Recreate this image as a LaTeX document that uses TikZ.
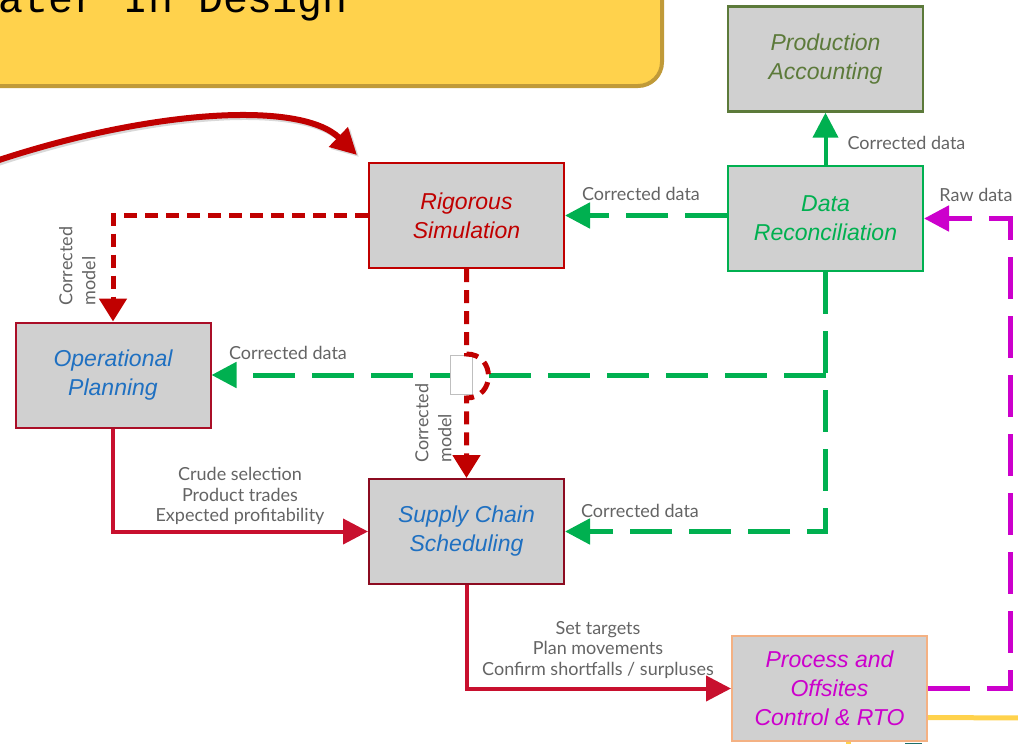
\documentclass[tikz,border=0pt]{standalone}
\usepackage{fontspec}
\setmainfont{Liberation Sans}
\newfontfamily\lblfont{Lato}
\newfontfamily\ttlfont{Liberation Mono}
\usetikzlibrary{arrows.meta, positioning, calc}
\definecolor{BX}{RGB}{208,208,208}
\definecolor{DR}{RGB}{192,0,0}
\definecolor{CR}{RGB}{200,16,46}
\definecolor{GN}{RGB}{0,176,80}
\definecolor{MG}{RGB}{204,0,204}
\definecolor{BL}{RGB}{31,112,193}
\definecolor{OL}{RGB}{92,122,58}
\definecolor{PE}{RGB}{244,177,131}
\definecolor{YL}{RGB}{255,210,76}
\definecolor{YD}{RGB}{192,154,56}
\definecolor{LG}{RGB}{100,100,100}
\definecolor{TL}{RGB}{31,111,106}

\begin{document}
\begin{tikzpicture}[
  x=0.5pt, y=-0.5pt,
  box/.style={draw=#1, fill=BX, line width=1pt, minimum width=97.5pt, minimum height=52.5pt,
    inner sep=0, align=center, font=\fontsize{11.5}{14.5}\selectfont\itshape},
  lbl/.style={font=\lblfont\fontsize{9}{10.25}\selectfont, text=LG, align=center, inner sep=0},
  rdash/.style={draw=DR, line width=2.5pt, dash pattern=on 6.5pt off 4pt,
    -{Triangle[length=11.5pt,width=13.5pt]}},
  gdash/.style={draw=GN, line width=2.5pt, dash pattern=on 21pt off 8.5pt,
    -{Triangle[length=12.5pt,width=12.5pt]}},
  mdash/.style={draw=MG, line width=2.5pt, dash pattern=on 21pt off 8.5pt,
    -{Triangle[length=12.5pt,width=12.5pt]}},
  flow/.style={draw=CR, line width=2pt, -{Triangle[length=12.5pt,width=12.5pt]}}
]
\useasboundingbox (0,0) rectangle (1018,744);
\clip (0,0) rectangle (1018,744);

% Title banner (cut off)
\draw[fill=YL, draw=YD, line width=2pt, rounded corners=12pt] (-40,-60) rectangle (662,86);
\node[font=\ttlfont\fontsize{20.8}{24}\selectfont, anchor=base west, inner sep=0] (ttl) at (-2,12) {ater In Design};

% Curved arrow from the banner
\coordinate (src) at (-4,161);
\coordinate (tgt) at (357,155);
\draw[draw=DR, line width=3pt, -{Triangle[length=13pt,width=13pt]},
  preaction={draw=black!15, line width=3pt, transform canvas={xshift=1pt,yshift=-1pt}}]
  (src) .. controls (150,110) and (300,100) .. (tgt);

% Boxes
\node[box=OL, text=OL, line width=1.2pt] (prod) at (825.5,59) {Production\\Accounting};
\node[box=DR, text=DR] (rig) at (466.5,215.5) {Rigorous\\Simulation};
\node[box=GN, text=GN] (drec) at (825.5,218.5) {Data\\Reconciliation};
\node[box=CR!85!black, text=BL] (opp) at (113,375) {Operational\\Planning};
\node[box=CR!70!black, text=BL] (scs) at (466.5,531.5) {Supply Chain\\Scheduling};
\node[box=PE, text=MG] (proc) at (829.5,688.5) {Process and\\Offsites\\Control \& RTO};

% Green data flows
\coordinate (jn) at (drec.south |- opp.east);
\draw[gdash] (drec.south) |- (scs.east);
\draw[gdash] (jn) -- (opp.east);
\draw[gdash] (rig.east -| drec.west) -- (rig.east);
\draw[draw=GN, line width=2pt, -{Triangle[length=12.5pt,width=12.5pt]}] (drec.north) -- (prod.south);

% Line jump
\draw[draw=black!25, fill=white, line width=0.5pt] (450,355) rectangle (472,394);

% Red model flows
\coordinate (hopA) at (466.5,354);
\coordinate (hopB) at (466.5,398);
\draw[rdash] (rig.west) -| (opp.north);
\draw[rdash] (rig.south) -- (hopA) .. controls +(29.3,0) and +(29.3,0) .. (hopB) -- (scs.north);

% Solid flows
\draw[flow] (opp.south) |- (scs.west);
\draw[flow] (scs.south) |- (proc.west);

% Raw data and other outputs
\coordinate (rawc) at ([xshift=43pt]drec.east);
\draw[mdash] (proc.east) -| (rawc) -- (drec.east);
\coordinate (yel) at (1022,718);
\draw[draw=YL, line width=2.5pt] ([yshift=-14.5pt]proc.east) -- (yel);
\draw[draw=YL, line width=2.5pt] ([xshift=9.25pt]proc.south) -- ++(0,10);
\fill[TL] (905,743) rectangle (922,750);

% Labels
\node[lbl] (l1) at (906.5,143) {Corrected data};
\node[lbl] (l2) at (641,194) {Corrected data};
\node[lbl] (l3) at (288,353) {Corrected data};
\node[lbl] (l4) at (640,511) {Corrected data};
\node[lbl] (l5) at (976,195) {Raw data};
\node[lbl, rotate=90, align=left, anchor=south west, font=\lblfont\fontsize{9}{11.5}\selectfont] (l6) at (96,306) {Corrected\\model};
\node[lbl, rotate=90, align=left, anchor=south west, font=\lblfont\fontsize{9}{11.5}\selectfont] (l7) at (452,463) {Corrected\\model};
\node[lbl] (l8) at (240,496) {Crude selection\\Product trades\\Expected profitability};
\node[lbl] (l9) at (598,650) {Set targets\\Plan movements\\Confirm shortfalls / surpluses};
\end{tikzpicture}
\end{document}
